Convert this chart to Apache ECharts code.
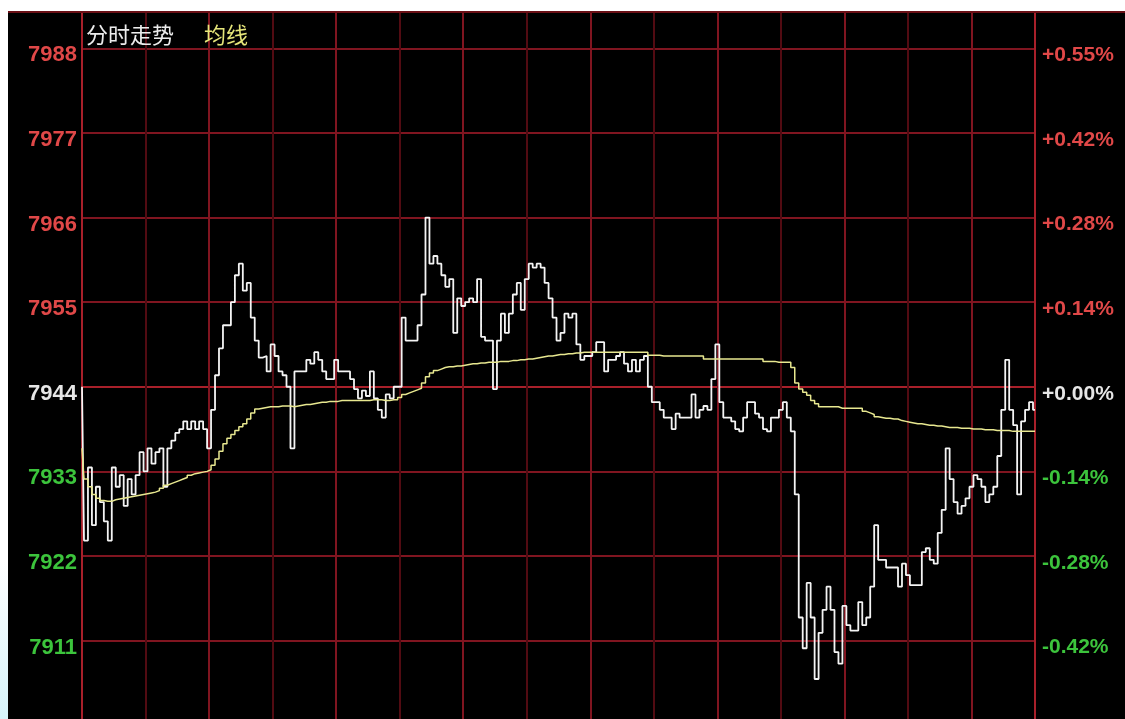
<!DOCTYPE html>
<html><head><meta charset="utf-8">
<script src="https://cdn.jsdelivr.net/npm/echarts@6/dist/echarts.min.js"></script>
<style>
html,body{margin:0;padding:0;background:#fff;width:1125px;height:719px;overflow:hidden;}
#topline{position:absolute;left:8px;top:11px;width:1117px;height:2px;background:#6a1016;}
#chart{position:absolute;left:8px;top:13px;width:1117px;height:706px;background:#000;}
#lstrip{position:absolute;left:0;top:560px;width:8px;height:159px;background:linear-gradient(#fff,#d6f3fa);}
</style></head><body>
<div id="topline"></div><div id="lstrip"></div><div id="chart"></div>
<script>
// ---- data ----
const baseValue = 7944;
const yTicks = [7911, 7922, 7933, 7944, 7955, 7966, 7977, 7988];
const pctLabels = ['-0.42%', '-0.28%', '-0.14%', '+0.00%', '+0.14%', '+0.28%', '+0.42%', '+0.55%'];
const legendNames = ['分时走势', '均线'];

const price = [
 7944, 7924, 7933.5, 7926, 7931, 7929, 7926.5, 7924, 7933.5, 7931,
 7932.5, 7928.5, 7932, 7930, 7932.5, 7935.5, 7933, 7936, 7934, 7935.5,
 7936, 7931, 7936, 7937, 7938, 7938.5, 7939.5, 7938.5, 7939.5, 7938.5,
 7939.5, 7938.5, 7936, 7941, 7945.5, 7949, 7952, 7952, 7955, 7958.5,
 7960, 7956.5, 7957.5, 7953, 7950, 7947.8, 7948, 7946, 7949.5, 7948,
 7946, 7945.5, 7944, 7936, 7946, 7946, 7946, 7947.5, 7947, 7948.5,
 7947.5, 7946, 7945, 7945, 7947.5, 7946, 7946, 7946, 7945, 7943.7,
 7942.5, 7943.5, 7942.8, 7946, 7942.5, 7941, 7940, 7943, 7942.5, 7944,
 7944, 7953, 7950, 7950, 7950, 7952, 7956, 7966, 7960, 7961,
 7960, 7958.5, 7957, 7958, 7951, 7955.5, 7954.5, 7955, 7955.5, 7955,
 7958, 7950.5, 7950, 7950, 7943.7, 7950, 7953.5, 7951, 7953.5, 7956,
 7957.5, 7954, 7958, 7960, 7959.5, 7960, 7959.5, 7957.5, 7955.5, 7953,
 7950, 7951, 7953.5, 7953, 7953.5, 7949.5, 7947.5, 7948, 7948, 7948.5,
 7949.8, 7949.8, 7946, 7947.5, 7947.5, 7948, 7948.5, 7947, 7946, 7947.5,
 7946, 7947.5, 7948, 7944, 7942, 7942, 7941, 7940, 7940, 7938.5,
 7940.5, 7940, 7940, 7940, 7943, 7940, 7941, 7941.5, 7941, 7945,
 7949.5, 7942, 7940, 7940, 7939.5, 7938.5, 7938.2, 7940, 7942, 7942,
 7940.5, 7940, 7938.5, 7938.2, 7940, 7940, 7941, 7942, 7940, 7938.2,
 7930, 7914, 7910, 7918.5, 7914, 7906, 7912, 7915, 7918, 7915,
 7909.5, 7908, 7915.5, 7913, 7912.3, 7912.3, 7916, 7913, 7914, 7918,
 7926, 7921.5, 7921.5, 7920.5, 7920.5, 7920.5, 7918, 7921, 7919.5, 7918.2,
 7918.2, 7918.2, 7922.5, 7923, 7921.5, 7921, 7925, 7928, 7936, 7932,
 7929, 7927.5, 7928.5, 7929.5, 7931, 7932.5, 7932, 7931, 7929, 7930,
 7931, 7935, 7941, 7947.5, 7941, 7939, 7930, 7939.5, 7941, 7942, 7941
];

const avgLine = [
 7936, 7932, 7931, 7930, 7929.5, 7929.2, 7929.1, 7929.1, 7929.3, 7929.4,
 7929.5, 7929.6, 7929.7, 7929.8, 7929.9, 7930.0, 7930.1, 7930.2, 7930.3, 7930.5,
 7930.8, 7931.2, 7931.4, 7931.6, 7931.8, 7932.0, 7932.2, 7932.5, 7932.7, 7932.8,
 7932.9, 7933.0, 7933.2, 7933.8, 7934.6, 7935.6, 7936.6, 7937.3, 7937.8, 7938.3,
 7938.8, 7939.2, 7939.8, 7940.6, 7941.1, 7941.2, 7941.3, 7941.4, 7941.4, 7941.4,
 7941.5, 7941.5, 7941.5, 7941.4, 7941.5, 7941.6, 7941.7, 7941.7, 7941.8, 7941.9,
 7942.0, 7942.0, 7942.1, 7942.1, 7942.1, 7942.2, 7942.2, 7942.2, 7942.2, 7942.2,
 7942.2, 7942.2, 7942.2, 7942.3, 7942.3, 7942.3, 7942.2, 7942.2, 7942.3, 7942.3,
 7942.6, 7943.0, 7943.2, 7943.4, 7943.6, 7943.8, 7944.5, 7945.3, 7945.8, 7946.1,
 7946.3, 7946.5, 7946.6, 7946.6, 7946.7, 7946.7, 7946.8, 7946.9, 7947.0, 7947.0,
 7947.1, 7947.1, 7947.2, 7947.2, 7947.2, 7947.3, 7947.3, 7947.3, 7947.4, 7947.4,
 7947.5, 7947.5, 7947.6, 7947.6, 7947.7, 7947.8, 7947.9, 7948.0, 7948.0, 7948.1,
 7948.2, 7948.2, 7948.3, 7948.3, 7948.4, 7948.4, 7948.5, 7948.5, 7948.5, 7948.5,
 7948.5, 7948.5, 7948.5, 7948.5, 7948.5, 7948.5, 7948.5, 7948.5, 7948.5, 7948.5,
 7948.5, 7948.5, 7948.5, 7948.1, 7948.1, 7948.1, 7948.0, 7948.0, 7948.0, 7948.0,
 7948.0, 7948.0, 7948.0, 7948.0, 7948.0, 7948.0, 7948.0, 7947.6, 7947.6, 7947.6,
 7947.6, 7947.6, 7947.6, 7947.6, 7947.6, 7947.6, 7947.6, 7947.6, 7947.6, 7947.6,
 7947.6, 7947.6, 7947.3, 7947.3, 7947.3, 7947.2, 7947.2, 7947.2, 7947.2, 7946.5,
 7944.5, 7943.7, 7943.3, 7942.9, 7942.2, 7941.8, 7941.4, 7941.4, 7941.4, 7941.4,
 7941.4, 7941.2, 7941.2, 7941.2, 7941.2, 7941.2, 7941.2, 7940.8, 7940.6, 7940.4,
 7940.1, 7940.0, 7939.9, 7939.9, 7939.8, 7939.8, 7939.6, 7939.5, 7939.4, 7939.3,
 7939.2, 7939.2, 7939.1, 7939.0, 7939.0, 7938.9, 7938.9, 7938.8, 7938.7, 7938.7,
 7938.7, 7938.6, 7938.6, 7938.6, 7938.5, 7938.5, 7938.5, 7938.4, 7938.4, 7938.4,
 7938.3, 7938.3, 7938.3, 7938.3, 7938.2, 7938.2, 7938.2, 7938.2, 7938.2, 7938.2, 7938.2
];

// minute labels of a trading day (09:30-11:30, 13:01-15:00)
const times = [];
(function () {
  function fmt(m) { const h = Math.floor(m / 60), mm = m % 60; return (h < 10 ? '0' : '') + h + ':' + (mm < 10 ? '0' : '') + mm; }
  for (let m = 9 * 60 + 30; m <= 11 * 60 + 30; m++) times.push(fmt(m));
  for (let m = 13 * 60 + 1; m <= 15 * 60; m++) times.push(fmt(m));
})();

// ---- chart ----
const RED = '#e04848', GREEN = '#3cc43c', WHITE = '#e6e6e6';
const gridRed = '#801520', gridRedBright = '#a8202a', gridDim = '#520b12';
function labelColor(v) { v = Number(v); return v > baseValue ? RED : (v < baseValue ? GREEN : WHITE); }
const labelFontFamily = '"Liberation Sans", Arial, sans-serif';

const chart = echarts.init(document.getElementById('chart'));
chart.setOption({
  backgroundColor: '#000',
  animation: false,
  legend: {
    left: 68, top: 6, icon: 'none', itemWidth: 0, itemHeight: 0, itemGap: 25,
    selectedMode: false,
    textStyle: { fontSize: 22, fontFamily: '"Noto Sans CJK SC", sans-serif' },
    data: [
      { name: legendNames[0], textStyle: { color: '#ececec' } },
      { name: legendNames[1], textStyle: { color: '#e6e67a' } }
    ]
  },
  grid: { left: 74, right: 90, top: 0, bottom: 0, containLabel: false },
  xAxis: [
    {
      type: 'category', data: times, boundaryGap: false,
      axisLine: { show: false }, axisTick: { show: false }, axisLabel: { show: false },
      splitLine: { show: true, interval: function (i) { return i > 0 && i % 32 === 0; }, lineStyle: { color: gridRed, width: 2 } }
    },
    {
      type: 'category', data: times, boundaryGap: false, position: 'top',
      axisLine: { show: false }, axisTick: { show: false }, axisLabel: { show: false },
      splitLine: { show: true, interval: function (i) { return i % 32 === 16; }, lineStyle: { color: gridDim, width: 2 } }
    }
  ],
  yAxis: [
    {
      type: 'value', min: 7900.8, max: 7992.6, position: 'left',
      axisLine: { show: true, lineStyle: { color: gridRedBright, width: 2 } },
      axisTick: { show: false, customValues: yTicks },
      axisLabel: {
        customValues: yTicks, margin: 5, verticalAlign: 'top', lineHeight: 14,
        fontSize: 22, fontWeight: 'bold', fontFamily: labelFontFamily,
        color: labelColor,
        formatter: function (v) { return String(Math.round(v)); }
      },
      splitLine: { show: true, lineStyle: { color: yTicks.map(function (v) { return v === baseValue ? gridRedBright : gridRed; }), width: 2 } }
    },
    {
      type: 'value', min: 7900.8, max: 7992.6, position: 'right',
      axisLine: { show: true, lineStyle: { color: gridRedBright, width: 2 } },
      axisTick: { show: false, customValues: yTicks },
      axisLabel: {
        customValues: yTicks, margin: 7, verticalAlign: 'top', lineHeight: 14,
        fontSize: 21, fontWeight: 'bold', fontFamily: labelFontFamily,
        color: labelColor,
        formatter: function (v) { return pctLabels[yTicks.indexOf(Math.round(v))] || ''; }
      },
      splitLine: { show: false }
    }
  ],
  series: [
    {
      name: legendNames[0], type: 'line', data: price, step: 'middle',
      showSymbol: false, z: 3,
      lineStyle: { color: '#f4f4f4', width: 1.8 }, itemStyle: { color: '#f4f4f4' }
    },
    {
      name: legendNames[1], type: 'line', data: avgLine, step: 'middle',
      showSymbol: false, z: 4,
      lineStyle: { color: '#e8e890', width: 1.5 }, itemStyle: { color: '#e8e890' }
    }
  ]
});
</script>
</body></html>
